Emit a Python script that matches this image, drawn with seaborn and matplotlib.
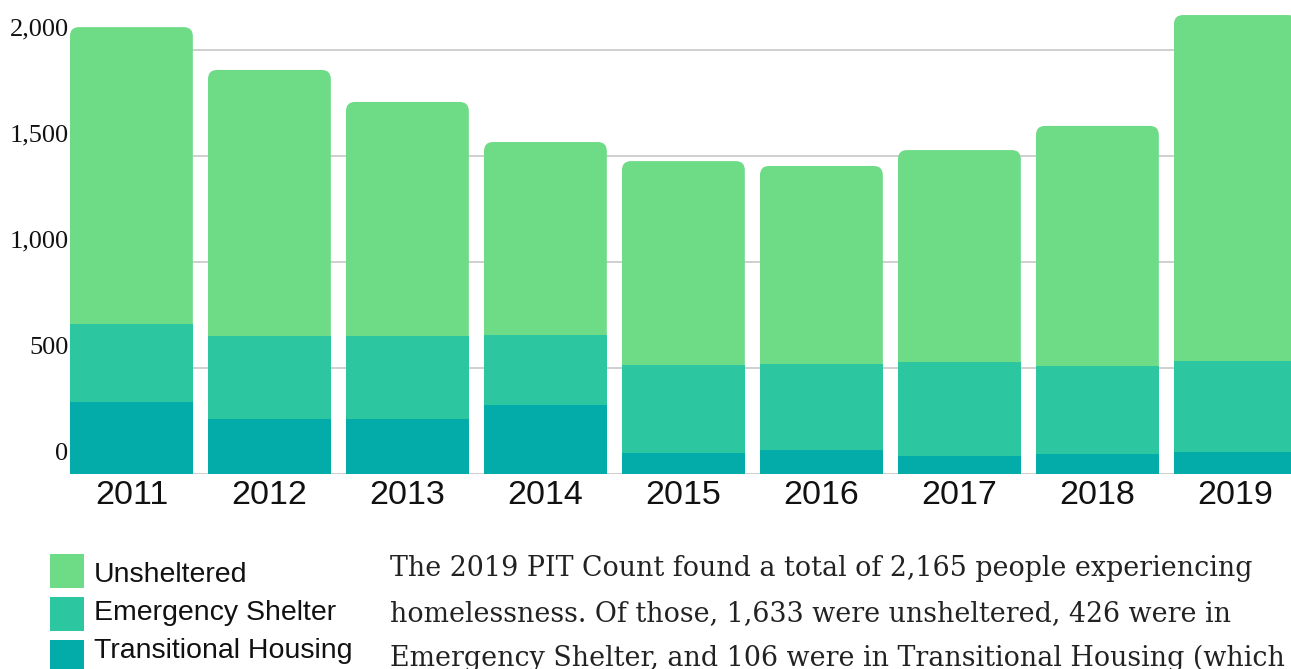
import matplotlib
matplotlib.use("Agg")
import matplotlib.pyplot as plt
import matplotlib.transforms as mtransforms
from matplotlib.patches import FancyBboxPatch, Rectangle
import seaborn as sns
import pandas as pd

# Datos
years = ["2011", "2012", "2013", "2014", "2015", "2016", "2017", "2018", "2019"]
unsheltered = [1400, 1255, 1104, 910, 962, 934, 1000, 1133, 1633]
emergency = [368, 392, 392, 331, 415, 406, 443, 415, 426]
transitional = [340, 259, 259, 325, 99, 113, 85, 94, 106]

series_names = ["Unsheltered", "Emergency Shelter", "Transitional Housing"]
colors = ["#6edb87", "#2cc7a0", "#03aca9"]

yticks = [0, 500, 1000, 1500, 2000]
ytick_labels = ["0", "500", "1,000", "1,500", "2,000"]

paragraph = [
    "The 2019 PIT Count found a total of 2,165 people experiencing",
    "homelessness. Of those, 1,633 were unsheltered, 426 were in",
    "Emergency Shelter, and 106 were in Transitional Housing (which",
]

df = pd.DataFrame({
    "year": years,
    "total": [u + e + t for u, e, t in zip(unsheltered, emergency, transitional)],
    "lower": [e + t for e, t in zip(emergency, transitional)],
    "transitional": transitional,
})

W, H = 1291, 669
fig = plt.figure(figsize=(W / 100, H / 100), dpi=100)
sns.set_style("white")

# ejes: izquierda en x=70, base en y=474, se sale por la derecha
bw = 0.89
left_px, bottom_px = 70, 474
span_px = 138 * (8 + bw)
ax = fig.add_axes([left_px / W, (H - bottom_px) / H, span_px / W, bottom_px / H])
ymax = 2236

# barra total (se redondea arriba)
sns.barplot(data=df, x="year", y="total", color=colors[0], width=bw,
            saturation=1, ax=ax, order=years)
tops = list(ax.patches)
px_x = span_px / (8 + bw)           # px por unidad x
px_y = bottom_px / ymax             # px por unidad y
r = 9 / px_x
aspect = px_x / px_y
for p in tops:
    x0, y0, w, h = p.get_x(), p.get_y(), p.get_width(), p.get_height()
    p.remove()
    fb = FancyBboxPatch((x0, y0), w, h,
                        boxstyle=f"round,pad=0,rounding_size={r}",
                        mutation_aspect=aspect, fc=colors[0], ec="none", zorder=2)
    ax.add_patch(fb)

sns.barplot(data=df, x="year", y="lower", color=colors[1], width=bw,
            saturation=1, ax=ax, order=years)
sns.barplot(data=df, x="year", y="transitional", color=colors[2], width=bw,
            saturation=1, ax=ax, order=years)
for p in ax.patches:
    if not isinstance(p, FancyBboxPatch):
        p.set_zorder(3)
    p.set_edgecolor("none")

ax.set_xlim(-bw / 2, 8 + bw / 2)
ax.set_ylim(0, ymax)
ax.set_xlabel("")
ax.set_ylabel("")
ax.set_yticks(yticks)
ax.set_yticklabels(ytick_labels)
ax.yaxis.grid(True, color="#cccccc", linewidth=1.3, zorder=0)
ax.set_axisbelow(True)
for s in ax.spines.values():
    s.set_visible(False)

ax.tick_params(axis="both", length=0)
ax.tick_params(axis="y", pad=1)
ax.tick_params(axis="x", pad=4)
for lab in ax.get_yticklabels():
    lab.set_fontfamily("Liberation Serif")
    lab.set_fontsize(19)
    lab.set_color("#111111")
    lab.set_transform(lab.get_transform() +
                      mtransforms.ScaledTranslation(0, 23 / 100, fig.dpi_scale_trans))
for lab in ax.get_xticklabels():
    lab.set_fontfamily("Liberation Sans")
    lab.set_fontsize(24.5)
    lab.set_color("#111111")

# leyenda manual
text_centers = [575, 613, 651]
for i, (name, c) in enumerate(zip(series_names, colors)):
    top = 554 + i * 43
    fig.patches.append(Rectangle((50 / W, 1 - (top + 34) / H), 34 / W, 34 / H,
                                 transform=fig.transFigure, fc=c, ec="none"))
    fig.text(94 / W, 1 - text_centers[i] / H, name, fontsize=20.5,
             family="Liberation Sans", va="center", ha="left", color="#111111")

# texto descriptivo
fs = 18
t = fig.text(390 / W, 1 - 576 / H, paragraph[0], fontsize=fs, family="DejaVu Serif",
             va="baseline", color="#222222")
fig.canvas.draw()
wpx = t.get_window_extent().width
fs = fs * 862 / wpx
t.set_fontsize(fs)
for i, line in enumerate(paragraph[1:], start=1):
    fig.text(390 / W, 1 - (576 + 45 * i) / H, line, fontsize=fs,
             family="DejaVu Serif", va="baseline", color="#222222")

fig.savefig("out.png", dpi=100)
